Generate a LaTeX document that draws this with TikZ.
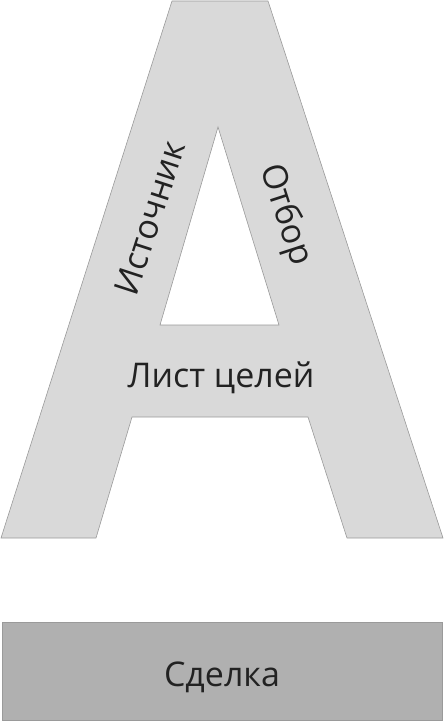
\documentclass[tikz,border=0pt]{standalone}
\usepackage{fontspec}
\setmainfont{Open Sans}
\definecolor{afill}{HTML}{D9D9D9}
\definecolor{aline}{HTML}{9A9A9A}
\definecolor{dfill}{HTML}{B0B0B0}
\definecolor{txt}{HTML}{222222}
\tikzset{
  lbl/.style={text=txt, inner sep=0pt, font=\fontsize{34}{38}\selectfont},
}
\begin{document}
\begin{tikzpicture}[x=1pt,y=-1pt]
\useasboundingbox (0,0) rectangle (445,722);
% letter A
\draw[fill=afill, draw=aline, line width=0.6pt, even odd rule]
  (172,1) -- (268,1) -- (443,538) -- (347,538) -- (308,417) -- (132,417) -- (96,538) -- (1,538) -- cycle
  (218,127) -- (279,325) -- (160,325) -- cycle;
\node[lbl, rotate=72] (src) at (150,218) {Источник};
\node[lbl, rotate=-72] (sel) at (285,215) {Отбор};
\node[lbl, anchor=base] (goals) at (221,387) {Лист целей};
% deal bar
\node[draw=aline, fill=dfill, minimum width=440pt, minimum height=98pt, inner sep=0pt, anchor=north west] (dealbox) at (2,622) {};
\node[lbl, anchor=base] (deal) at (222,686) {Сделка};
\end{tikzpicture}
\end{document}
